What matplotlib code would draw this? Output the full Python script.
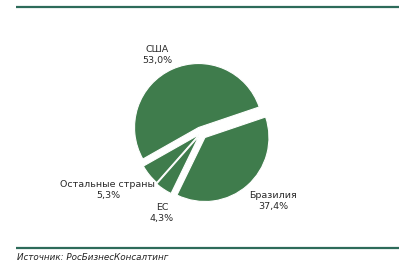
import numpy as np
import matplotlib.pyplot as plt

W, H = 399, 269

labels = ["США", "Остальные страны", "ЕС", "Бразилия"]
shares = [53.0, 5.3, 4.3, 37.4]
# offsets in pixels (pie explode is in data units here)
explode = [6, 2.5, 3.5, 6]
# label positions in pixels (x, y from top)
label_pos = [(157, 55), (108, 190), (162, 213), (273, 201)]

green = "#3f7c4c"
line_col = "#2d6b5a"

fig = plt.figure(figsize=(W / 100, H / 100), dpi=100)
ax = fig.add_axes([0, 0, 1, 1])

# start at the USA/Brazil boundary, counterclockwise
ax.pie(shares, explode=explode, startangle=18.7, counterclock=True,
       colors=[green] * 4, center=(201, H - 133), radius=64,
       wedgeprops=dict(edgecolor="white", linewidth=0.8), frame=True)
ax.set_xlim(0, W)
ax.set_ylim(0, H)
ax.set_aspect("equal")
ax.axis("off")

for lab, val, (x, y) in zip(labels, shares, label_pos):
    txt = lab + "\n" + f"{val:.1f}".replace(".", ",") + "%"
    ax.text(x, H - y, txt, ha="center", va="center", fontsize=6.8,
            linespacing=1.25, color="#2a2a2a")

# rules and source
ax.plot([16, W], [H - 7, H - 7], color=line_col, lw=1.6, solid_capstyle="butt")
ax.plot([16, W], [H - 248, H - 248], color=line_col, lw=1.6, solid_capstyle="butt")
ax.text(17, H - 258, "Источник: РосБизнесКонсалтинг", fontsize=6.3, style="italic",
        ha="left", va="center", color="#222222")

fig.savefig("out.png", dpi=100)
